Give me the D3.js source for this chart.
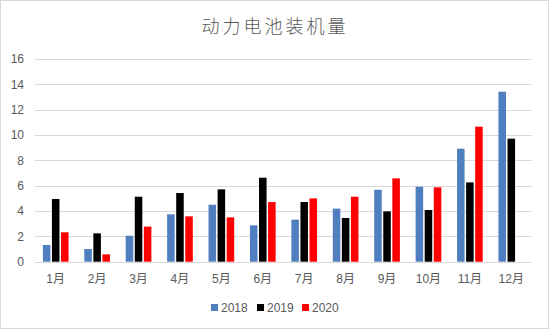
<!DOCTYPE html>
<html><head><meta charset="utf-8">
<script src="https://cdn.jsdelivr.net/npm/d3@7"></script>
<style>body{margin:0;background:#fff}svg{display:block}</style>
</head><body><svg id="c" width="550" height="330"></svg>
<script>
const title = "动力电池装机量";
const months = ["1月","2月","3月","4月","5月","6月","7月","8月","9月","10月","11月","12月"];
const seriesNames = ["2018","2019","2020"];
const colors = ["#4f7fbf","#000000","#ff0000"];
const v2018 = [1.32,1.0,2.05,3.74,4.5,2.87,3.32,4.19,5.68,5.92,8.92,13.42];
const v2019 = [4.95,2.24,5.13,5.42,5.71,6.63,4.71,3.45,3.97,4.08,6.26,9.71];
const v2020 = [2.32,0.58,2.77,3.58,3.5,4.71,5.0,5.13,6.58,5.87,10.66,null];
const yTicks = [0,2,4,6,8,10,12,14,16];
const values = [v2018, v2019, v2020];

const svg = d3.select("#c");
svg.append("rect").attr("x",0.5).attr("y",0.5).attr("width",548).attr("height",328)
  .attr("fill","#fff").attr("stroke","#d9d9d9");

const x0 = d3.scaleBand().domain(months).range([35,532]).paddingInner(0.38).paddingOuter(0.19);
const x1 = d3.scaleBand().domain(seriesNames).range([0,x0.bandwidth()]).paddingInner(0.17);
const y = d3.scaleLinear().domain([0,16]).range([261.7,59]);

// gridlines
svg.append("g").selectAll("line").data(yTicks).join("line")
  .attr("x1",35).attr("x2",532).attr("y1",d=>Math.round(y(d))+0.5).attr("y2",d=>Math.round(y(d))+0.5)
  .attr("stroke","#d9d9d9").attr("stroke-width",1);

// y labels
svg.append("g").selectAll("text").data(yTicks).join("text")
  .attr("x",24).attr("y",d=>y(d)).attr("dy","0.35em").attr("text-anchor","end")
  .attr("font-family","Liberation Sans, Arial, sans-serif").attr("font-size",12).attr("fill","#595959")
  .text(d=>d);

// bars
const g = svg.append("g");
seriesNames.forEach((s,si)=>{
  g.append("g").selectAll("rect").data(months.map((m,i)=>({m,v:values[si][i]})).filter(d=>d.v!=null))
    .join("rect")
    .attr("x",d=>x0(d.m)+x1(s)).attr("width",x1.bandwidth())
    .attr("y",d=>y(d.v)).attr("height",d=>y(0)-y(d.v))
    .attr("fill",colors[si]);
});

// axis line
svg.append("line").attr("x1",35).attr("x2",532).attr("y1",Math.round(y(0))+0.5).attr("y2",Math.round(y(0))+0.5)
  .attr("stroke","#d9d9d9");

// x labels
svg.append("g").selectAll("text").data(months).join("text")
  .attr("x",d=>x0(d)+x0.bandwidth()/2).attr("y",279).attr("dy","0.35em").attr("text-anchor","middle")
  .attr("font-family","Liberation Sans, 'Noto Sans CJK SC', sans-serif").attr("font-size",12).attr("fill","#595959")
  .text(d=>d);

// title
svg.append("text").attr("x",275).attr("y",27).attr("dy","0.35em").attr("text-anchor","middle")
  .attr("font-family","'Noto Sans CJK SC', sans-serif").attr("font-weight",300).attr("font-size",18)
  .attr("letter-spacing",3).attr("fill","#595959").text(title);

// legend
const lx = [211,257,302];
const lg = svg.append("g");
seriesNames.forEach((s,i)=>{
  lg.append("rect").attr("x",lx[i]).attr("y",304).attr("width",7).attr("height",7).attr("fill",colors[i]);
  lg.append("text").attr("x",lx[i]+10).attr("y",308).attr("dy","0.35em")
    .attr("font-family","Liberation Sans, Arial, sans-serif").attr("font-size",12).attr("fill","#595959").text(s);
});
</script></body></html>
